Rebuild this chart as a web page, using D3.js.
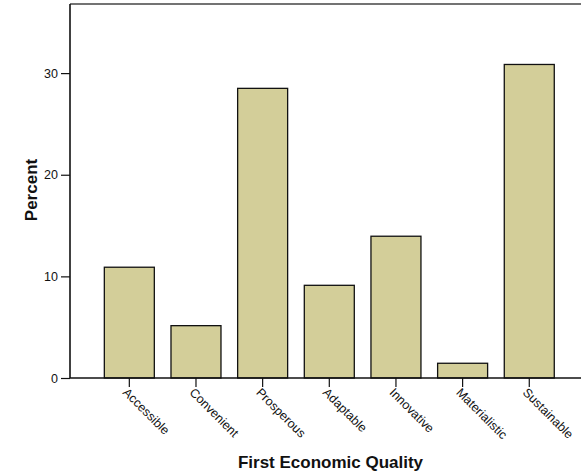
<!DOCTYPE html>
<html>
<head>
<meta charset="utf-8">
<script src="https://cdn.jsdelivr.net/npm/d3@7"></script>
<style>
  html, body { margin: 0; padding: 0; background: #fff; }
  svg { display: block; font-family: Arial, "Liberation Sans", sans-serif; }
</style>
</head>
<body>
<svg id="chart" width="581" height="476"></svg>
<script>
// Share of respondents by first economic quality
const categories = ["Accessible", "Convenient", "Prosperous", "Adaptable", "Innovative", "Materialistic", "Sustainable"];
const percents = [10.9, 5.15, 28.5, 9.12, 13.95, 1.45, 30.85];
const yTicks = [0, 10, 20, 30];

const svg = d3.select("#chart");
const plotLeft = 70, plotTop = 4, plotBottom = 378, plotRight = 588.6;

const x = d3.scaleBand()
  .domain(categories)
  .range([plotLeft, plotRight])
  .paddingInner(0.25)
  .paddingOuter(0.515);

const y = d3.scaleLinear()
  .domain([0, 36.8])
  .range([plotBottom, plotTop]);

// frame: top rule
svg.append("line")
  .attr("x1", plotLeft).attr("x2", 581)
  .attr("y1", plotTop).attr("y2", plotTop)
  .attr("stroke", "#444").attr("stroke-width", 1.5);

// bars
svg.append("g").selectAll("rect")
  .data(categories)
  .join("rect")
  .attr("x", d => x(d))
  .attr("width", x.bandwidth())
  .attr("y", (d, i) => y(percents[i]))
  .attr("height", (d, i) => y(0) - y(percents[i]))
  .attr("fill", "#d3ce99")
  .attr("stroke", "#111")
  .attr("stroke-width", 1.3);

// y axis
const yAxis = svg.append("g")
  .attr("transform", `translate(${plotLeft},0)`)
  .call(d3.axisLeft(y).tickValues(yTicks).tickSize(9).tickPadding(3).tickFormat(d3.format("d")));
yAxis.select(".domain").attr("d", `M0,${plotTop}V${plotBottom}`).attr("stroke", "#111").attr("stroke-width", 1.6);
yAxis.selectAll(".tick line").attr("stroke", "#111").attr("stroke-width", 1.2);
yAxis.selectAll(".tick text").attr("font-size", 12.5).attr("fill", "#111");

// x axis
const xAxis = svg.append("g")
  .attr("transform", `translate(0,${plotBottom})`)
  .call(d3.axisBottom(x).tickSize(9).tickPadding(0));
xAxis.select(".domain").attr("d", `M${plotLeft},0H581`).attr("stroke", "#111").attr("stroke-width", 1.6);
xAxis.selectAll(".tick line").attr("stroke", "#111").attr("stroke-width", 1.2);
xAxis.selectAll(".tick text")
  .attr("font-size", 12.5)
  .attr("fill", "#111")
  .attr("text-anchor", "start")
  .attr("dy", null)
  .attr("y", 0)
  .attr("transform", "translate(-1,9) rotate(45)")
  .attr("dominant-baseline", "hanging");

// axis titles
svg.append("text")
  .attr("transform", "translate(37,190) rotate(-90)")
  .attr("text-anchor", "middle")
  .attr("font-size", 17)
  .attr("font-weight", "bold")
  .attr("fill", "#111")
  .text("Percent");

svg.append("text")
  .attr("x", 330.5).attr("y", 468)
  .attr("text-anchor", "middle")
  .attr("font-size", 17)
  .attr("font-weight", "bold")
  .attr("fill", "#111")
  .text("First Economic Quality");
</script>
</body>
</html>
